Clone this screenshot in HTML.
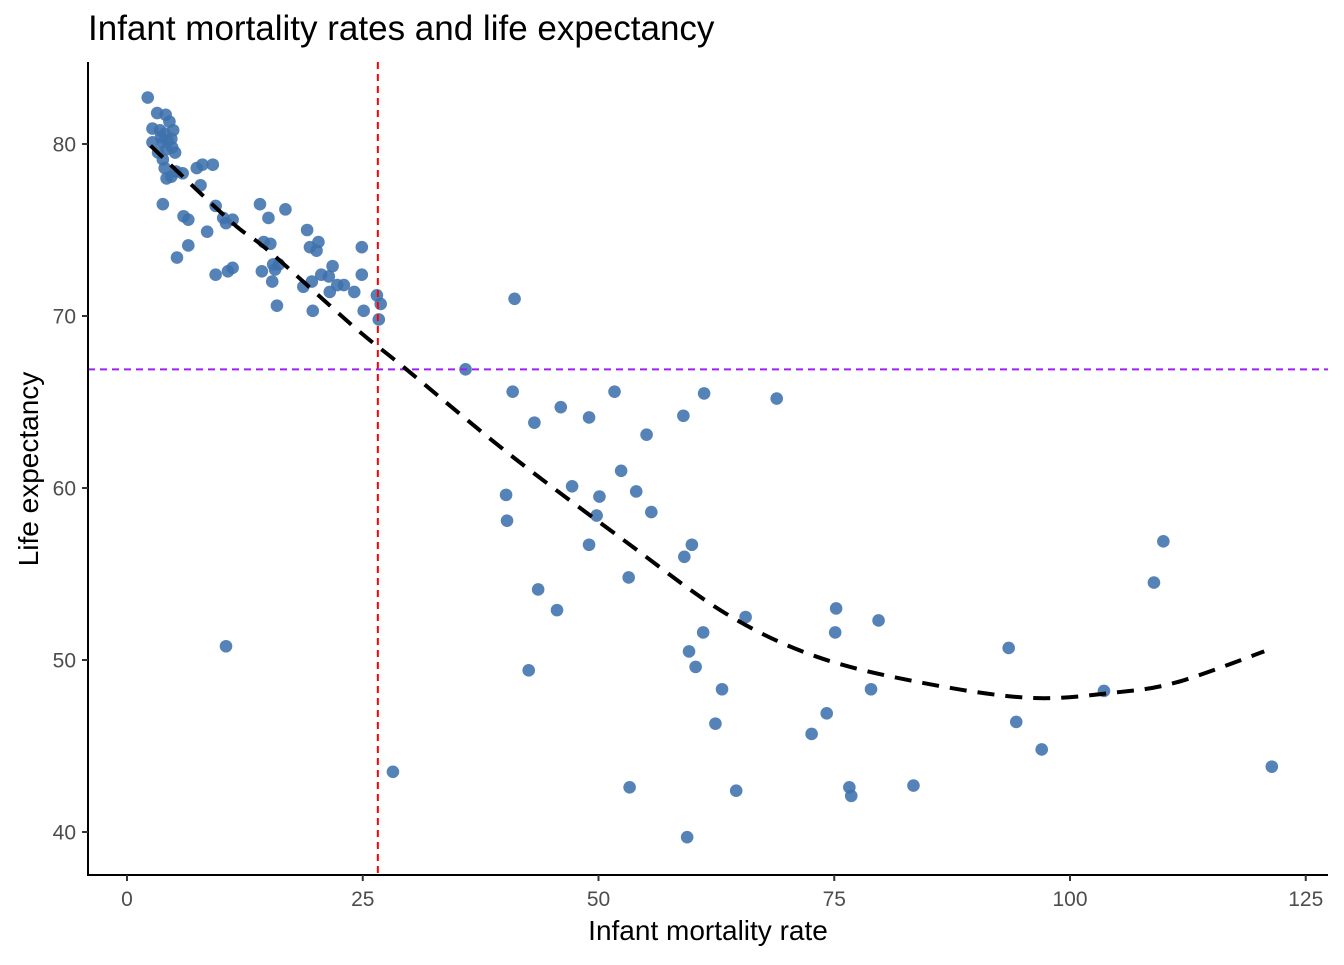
<!DOCTYPE html>
<html><head><meta charset="utf-8"><style>
html,body{margin:0;padding:0;background:#fff;}
svg text{font-family:"Liberation Sans",Arial,sans-serif;}
</style></head><body>
<svg id="chart" width="1344" height="960" viewBox="0 0 1344 960" xmlns="http://www.w3.org/2000/svg">
<rect width="1344" height="960" fill="#fff"/>
<text x="88" y="40" font-size="35" fill="#000">Infant mortality rates and life expectancy</text>
<g id="points"></g>
<g id="lines"></g>
<g id="axes"></g>
<text x="708" y="940" font-size="28" text-anchor="middle" fill="#000">Infant mortality rate</text>
<text transform="translate(38,469) rotate(-90)" font-size="28" text-anchor="middle" fill="#000">Life expectancy</text>
</svg>
<script>
const infantMortality = [2.2,2.7,3.2,4.1,4.5,4.9,3.5,3.6,3.8,4.0,4.3,4.7,4.8,4.2,3.3,3.8,5.1,2.7,4.0,4.2,4.7,5.2,5.9,3.8,7.4,8.0,9.1,7.8,9.4,10.2,10.5,11.2,6.0,6.5,5.3,6.5,8.5,9.4,10.7,11.2,14.1,15.0,16.8,15.2,14.5,14.3,16.1,15.5,15.7,15.4,15.9,19.1,19.4,20.3,20.1,20.6,19.6,19.7,18.7,21.4,21.8,21.5,22.3,23.0,24.1,24.9,24.9,25.1,26.5,26.9,26.7,10.5,28.2,35.9,41.1,40.9,43.2,40.2,40.3,43.6,42.6,45.6,46.0,47.2,49.0,50.1,49.8,49.0,51.7,52.4,54.0,55.1,55.6,53.2,53.3,59.0,61.2,59.1,59.9,61.1,59.6,60.3,63.1,62.4,64.6,65.6,68.9,75.2,75.1,72.6,74.2,76.6,76.8,78.9,79.7,83.4,93.5,94.3,97.0,103.6,108.9,109.9,121.4,59.4];
const lifeExpectancy = [82.7,80.9,81.8,81.7,81.3,80.8,80.8,80.4,80.1,80.6,80.2,80.3,79.8,79.7,79.5,79.1,79.5,80.1,78.6,78.0,78.1,78.4,78.3,76.5,78.6,78.8,78.8,77.6,76.4,75.7,75.4,75.6,75.8,75.6,73.4,74.1,74.9,72.4,72.6,72.8,76.5,75.7,76.2,74.2,74.3,72.6,73.0,73.0,72.7,72.0,70.6,75.0,74.0,74.3,73.8,72.4,72.0,70.3,71.7,72.3,72.9,71.4,71.8,71.8,71.4,74.0,72.4,70.3,71.2,70.7,69.8,50.8,43.5,66.9,71.0,65.6,63.8,59.6,58.1,54.1,49.4,52.9,64.7,60.1,64.1,59.5,58.4,56.7,65.6,61.0,59.8,63.1,58.6,54.8,42.6,64.2,65.5,56.0,56.7,51.6,50.5,49.6,48.3,46.3,42.4,52.5,65.2,53.0,51.6,45.7,46.9,42.6,42.1,48.3,52.3,42.7,50.7,46.4,44.8,48.2,54.5,56.9,43.8,39.7];
const xTicks = [0,25,50,75,100,125];
const yTicks = [40,50,60,70,80];
const meanInfant = [26.6];
const meanLife = [66.9];
const fitX = [2.5,11,15,24.0,29.4,40.7,52.6,63.5,73.1,84.1,95.7,104.6,111.3,120.6];
const fitY = [79.9,75.5,73.8,69.4,67.0,61.9,57.0,52.7,50.2,48.7,47.8,48.1,48.7,50.5];

const X = v => 127 + v * 9.43;
const Y = v => 144 + (80 - v) * 17.2;
const NS = "http://www.w3.org/2000/svg";
function mk(tag, attrs, parent){const e=document.createElementNS(NS,tag);for(const k in attrs)e.setAttribute(k,attrs[k]);parent.appendChild(e);return e;}

const pts = document.getElementById('points');
infantMortality.forEach((v,i)=>{
  const c = mk('circle',{cx:X(v),cy:Y(lifeExpectancy[i]),r:6.3,fill:'#3f72ad','fill-opacity':0.88},pts);
  
  
});

const lines = document.getElementById('lines');
const vl = mk('line',{x1:X(meanInfant[0]),x2:X(meanInfant[0]),y1:62,y2:875,stroke:'#ff0000','stroke-width':2,'stroke-dasharray':'7,5'},lines);


const hl = mk('line',{x1:88,x2:1328,y1:Y(meanLife[0]),y2:Y(meanLife[0]),stroke:'#a020f0','stroke-width':2,'stroke-dasharray':'7,5'},lines);


const P = fitX.map((v,i)=>[X(v),Y(fitY[i])]);
let d='M'+P[0][0]+','+P[0][1];
for(let i=0;i<P.length-1;i++){
  const p0=P[Math.max(0,i-1)],p1=P[i],p2=P[i+1],p3=P[Math.min(P.length-1,i+2)];
  const c1=[p1[0]+(p2[0]-p0[0])/6,p1[1]+(p2[1]-p0[1])/6];
  const c2=[p2[0]-(p3[0]-p1[0])/6,p2[1]-(p3[1]-p1[1])/6];
  d+='C'+c1.join(',')+' '+c2.join(',')+' '+p2.join(',');
}
const fit = mk('path',{d:d,fill:'none',stroke:'#000','stroke-width':4,'stroke-dasharray':'17,11'},lines);



const ax = document.getElementById('axes');
const xa = mk('line',{x1:88,x2:1328,y1:875,y2:875,stroke:'#000','stroke-width':2},ax);


const ya = mk('line',{x1:88,x2:88,y1:62,y2:876,stroke:'#000','stroke-width':2},ax);


xTicks.forEach(t=>{
  mk('line',{x1:X(t),x2:X(t),y1:875,y2:881,stroke:'#333','stroke-width':2},ax);
  const tx = mk('text',{x:X(t),y:906,'font-size':21,'text-anchor':'middle',fill:'#4d4d4d'},ax);
  tx.textContent=t;
  
  
});
yTicks.forEach(t=>{
  mk('line',{x1:82,x2:88,y1:Y(t),y2:Y(t),stroke:'#333','stroke-width':2},ax);
  const tx = mk('text',{x:76,y:Y(t)+7.5,'font-size':21,'text-anchor':'end',fill:'#4d4d4d'},ax);
  tx.textContent=t;
  
  
});
</script>
</body></html>
